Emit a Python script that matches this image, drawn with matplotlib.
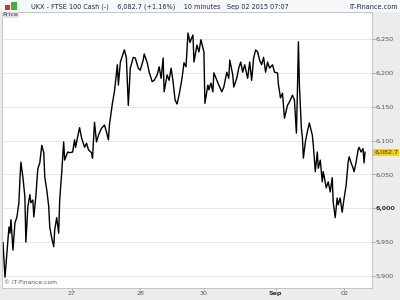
import numpy as np
import matplotlib
matplotlib.use('Agg')
import matplotlib.pyplot as plt
from matplotlib.patches import Rectangle

# 10-minute bar index vs. FTSE 100 cash price
bar = [1, 3, 5, 7, 8, 9, 11, 13, 15, 17, 18, 19, 21, 23, 24, 26, 28, 29, 31, 32,
       34, 36, 38, 40, 42, 43, 45, 47, 48, 50, 52, 53, 55, 57, 58, 60, 62, 63, 66, 68,
       71, 73, 74, 76, 78, 80, 83, 85, 87, 90, 91, 93, 95, 97, 100, 103, 105, 107, 108, 111,
       113, 116, 117, 119, 123, 125, 127, 129, 132, 134, 137, 139, 142, 143, 146, 148, 151, 153, 156, 158,
       160, 162, 163, 166, 168, 170, 172, 174, 176, 178, 181, 183, 185, 187, 189, 190, 192, 193, 196, 198,
       200, 202, 203, 204, 207, 208, 210, 212, 213, 216, 218, 221, 223, 226, 228, 229, 232, 233, 236, 238,
       240, 242, 244, 247, 249, 251, 253, 255, 257, 259, 261, 263, 265, 267, 269, 272, 274, 277, 278, 280,
       282, 284, 287, 289, 292, 294, 296, 297, 298, 299, 301, 302, 303, 305, 307, 309, 312, 313, 315, 317,
       318, 320, 322, 323, 326, 328, 330, 332, 333, 335, 337, 338, 340, 342, 344, 346, 348, 349, 351, 353,
       354, 356, 358, 359, 361, 363, 364, 365]
price = [5949, 5898, 5934, 5972, 5963, 5983, 5938, 5978, 5987, 6008, 6042, 6068, 6046, 6017, 5950, 6002, 6020, 6008, 6012, 5987,
         6017, 6058, 6067, 6093, 6082, 6046, 6027, 6002, 5972, 5956, 5943, 5968, 5986, 5963, 6012, 6052, 6098, 6071, 6083, 6082,
         6083, 6101, 6090, 6105, 6119, 6104, 6090, 6096, 6086, 6082, 6074, 6127, 6098, 6108, 6118, 6123, 6113, 6101, 6123, 6155,
         6172, 6212, 6182, 6216, 6234, 6223, 6152, 6207, 6223, 6222, 6207, 6204, 6219, 6228, 6215, 6201, 6187, 6189, 6197, 6209,
         6192, 6222, 6172, 6197, 6189, 6207, 6187, 6160, 6154, 6167, 6192, 6215, 6209, 6259, 6245, 6249, 6256, 6216, 6241, 6231,
         6249, 6237, 6231, 6155, 6182, 6175, 6185, 6172, 6200, 6189, 6182, 6172, 6179, 6201, 6192, 6219, 6197, 6179, 6192, 6207,
         6216, 6201, 6212, 6192, 6216, 6189, 6222, 6234, 6231, 6219, 6212, 6223, 6201, 6216, 6207, 6212, 6201, 6200, 6182, 6163,
         6170, 6133, 6152, 6157, 6167, 6160, 6111, 6172, 6246, 6182, 6118, 6105, 6074, 6098, 6113, 6126, 6108, 6093, 6054, 6083,
         6059, 6071, 6039, 6054, 6030, 6039, 6024, 6045, 6009, 5986, 6015, 6005, 6015, 5994, 6015, 6034, 6068, 6076, 6067, 6059,
         6054, 6068, 6086, 6090, 6083, 6088, 6067, 6082.7]

yticks = [5900, 5950, 6000, 6050, 6100, 6150, 6200, 6250]
xtick_bar = [70, 139, 203, 275, 344]
xtick_lab = ['27', '28', '30', 'Sep', '02']
last = 6082.7

fig = plt.figure(figsize=(4, 3), dpi=100, facecolor='#eaecee')
# header strip
fig.patches.append(Rectangle((0, 0.96), 1, 0.04, transform=fig.transFigure,
                             facecolor='#f7f8f9', edgecolor='none', zorder=0))
fig.text(0.078, 0.978, 'UKX - FTSE 100 Cash (-)    6,082.7 (+1.16%)    10 minutes   Sep 02 2015 07:07',
         fontsize=4.7, color='#1a2a4a', va='center', ha='left')
fig.text(0.995, 0.978, 'IT-Finance.com', fontsize=4.7, color='#1a2a4a', va='center', ha='right')
# little candle icon
fig.patches.append(Rectangle((0.012, 0.966), 0.012, 0.018, transform=fig.transFigure,
                             facecolor='#d03030', edgecolor='none'))
fig.patches.append(Rectangle((0.028, 0.968), 0.014, 0.026, transform=fig.transFigure,
                             facecolor='#40b040', edgecolor='none'))

ax = fig.add_axes([0.005, 0.04, 0.925, 0.92])
ax.set_facecolor('white')
ax.plot(bar, price, color='black', lw=1.0)
ax.set_xlim(0, 372)
ax.set_ylim(5882, 6290)
ax.set_yticks(yticks)
ax.set_yticklabels([f'{v:,}' for v in yticks])
ax.yaxis.tick_right()
ax.tick_params(axis='y', length=2, width=0.5, color='#888888', labelsize=4.6,
               labelcolor='#555555', pad=0.5)
for lab in ax.get_yticklabels():
    if lab.get_text() == '6,000':
        lab.set_fontweight('bold')
        lab.set_color('#333333')
ax.set_xticks(xtick_bar)
ax.set_xticklabels(xtick_lab)
ax.tick_params(axis='x', length=1.5, width=0.5, color='#888888', labelsize=4.6,
               labelcolor='#555555', pad=0.5)
for lab in ax.get_xticklabels():
    if lab.get_text() == 'Sep':
        lab.set_fontweight('bold')
        lab.set_color('#333333')
ax.grid(axis='y', color='#e4e4e4', lw=0.6)
ax.set_axisbelow(True)
for s in ax.spines.values():
    s.set_color('#b8bcc0')
    s.set_linewidth(0.6)

ax.text(0.0, 1.0, 'Price', transform=ax.transAxes, fontsize=4.6, color='#333355',
        va='top', ha='left', bbox=dict(boxstyle='square,pad=0.15', fc='#dde1e5', ec='none'))
ax.text(0.005, 0.012, '\u00a9 IT-Finance.com', transform=ax.transAxes, fontsize=4.3,
        color='#555555', va='bottom', ha='left')
ax.annotate(f'{last:,.1f}', xy=(1, last), xycoords=('axes fraction', 'data'),
            xytext=(1.5, 0), textcoords='offset points', fontsize=4.6, color='#333333',
            va='center', ha='left',
            bbox=dict(boxstyle='square,pad=0.15', fc='#f2d21c', ec='none'))

fig.savefig('out.png', dpi=100, facecolor=fig.get_facecolor())
